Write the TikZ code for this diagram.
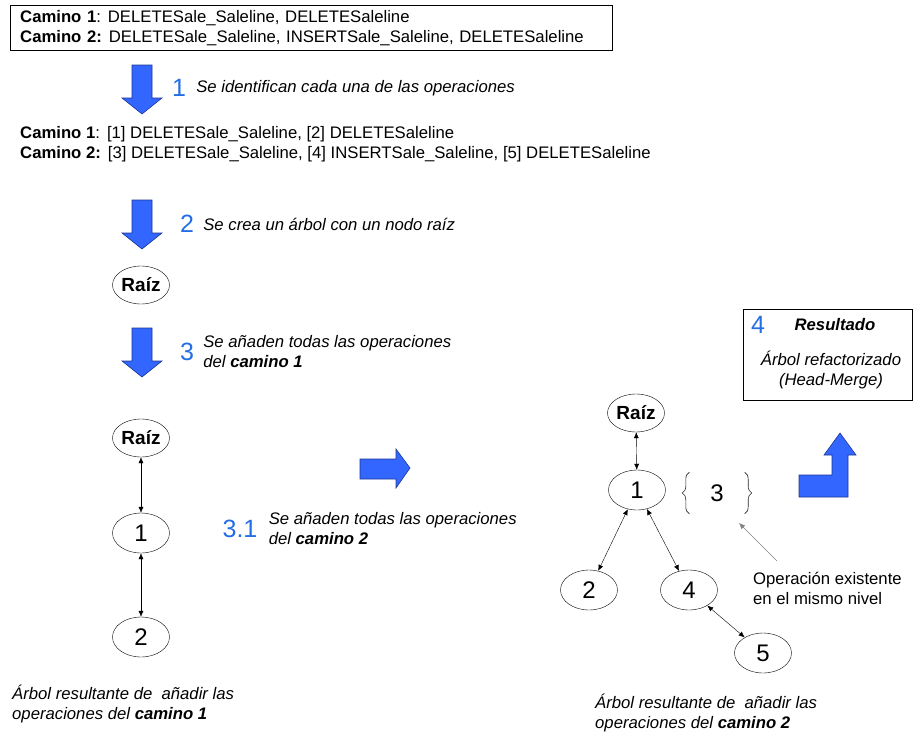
\documentclass[tikz,border=0pt]{standalone}
\usepackage{fontspec}
\setmainfont{Liberation Sans}
\usepackage{tikz}
\usetikzlibrary{positioning,arrows.meta,shapes.geometric,decorations.pathreplacing}
\definecolor{arrowblue}{RGB}{51,102,255}
\definecolor{arrowedge}{RGB}{30,55,150}
\definecolor{stepblue}{RGB}{35,110,230}

\begin{document}
\begin{tikzpicture}[
    x=1pt, y=-1pt,
    >={Latex[length=6pt,width=5pt]},
    tnode/.style={ellipse, draw, minimum width=57pt, minimum height=40pt, inner sep=0pt, font=\fontsize{24}{24}\selectfont},
    rnode/.style={ellipse, draw, minimum width=57pt, minimum height=38pt, inner sep=0pt, font=\fontsize{19}{19}\selectfont\bfseries},
    blockarrow/.style={draw=arrowedge, fill=arrowblue, line width=0.6pt},
    stepnum/.style={font=\fontsize{25}{25}\selectfont, text=stepblue, inner sep=1pt},
    stepdesc/.style={font=\fontsize{16.7}{20}\selectfont\itshape, align=left, inner sep=0pt, anchor=west},
    plain/.style={font=\fontsize{16.7}{20}\selectfont, align=left, inner sep=0pt, anchor=west},
    link/.style={<->, thin},
    grouping/.style={black!85, line width=0.6pt, decorate, decoration={brace, amplitude=7pt}}
]
\useasboundingbox (0,0) rectangle (915,731);

% === Paths (top) ===
\node[plain, draw, anchor=north west, inner xsep=10pt, text width=582pt, minimum height=45pt] (paths) at (10,5)
  {\textbf{Camino 1}:\hspace{7pt}DELETESale\_Saleline, DELETESaleline\\
   \textbf{Camino 2:}\hspace{7pt}DELETESale\_Saleline, INSERTSale\_Saleline, DELETESaleline};

% Down arrows (steps 1, 2, 3)
\foreach \top in {65, 200, 328} {
  \draw[blockarrow] (132,\top) -- (152,\top) -- (152,\top+33) -- (162,\top+33)
    -- (142,\top+49) -- (122,\top+33) -- (132,\top+33) -- cycle;
}

% Step 1
\node[stepnum] (num1) at (179,88) {1};
\node[stepdesc, right=9pt of num1] (desc1) {Se identifican cada una de las operaciones};

\node[plain] (ops) at (20,144)
  {\textbf{Camino 1}:\hspace{7pt}[1] DELETESale\_Saleline, [2] DELETESaleline\\
   \textbf{Camino 2:}\hspace{7pt}[3] DELETESale\_Saleline, [4] INSERTSale\_Saleline, [5] DELETESaleline};

% Step 2
\node[stepnum] (num2) at (187,224) {2};
\node[stepdesc, right=8pt of num2] (desc2) {Se crea un árbol con un nodo raíz};
\node[rnode] (root0) at (141,285) {Raíz};

% Step 3
\node[stepnum] (num3) at (187,352) {3};
\node[stepdesc, right=8pt of num3] (desc3) {Se añaden todas las operaciones\\del \textbf{camino 1}};

% === Tree after camino 1 ===
\node[rnode] (rootA) at (141,438) {Raíz};
\node[tnode] (oneA) at (141,533) {1};
\node[tnode] (twoA) at (141,637) {2};
\draw[link] (rootA) -- (oneA);
\draw[link] (oneA) -- (twoA);
\node[stepdesc] (capA) at (12,704) {Árbol resultante de~ añadir las\\operaciones del \textbf{camino 1}};

% Step 3.1
\draw[blockarrow] (360,459) -- (396,459) -- (396,449) -- (410,468) -- (396,488) -- (396,479) -- (360,479) -- cycle;
\node[stepnum] (num31) at (240,529) {3.1};
\node[stepdesc, right=10pt of num31] (desc31) {Se añaden todas las operaciones\\del \textbf{camino 2}};

% === Tree after camino 2 ===
\node[rnode] (rootB) at (636,413) {Raíz};
\node[tnode] (oneB) at (637,490) {1};
\node[tnode] (twoB) at (589,590) {2};
\node[tnode] (fourB) at (689,590) {4};
\node[tnode] (fiveB) at (763,653) {5};
\draw[link] (rootB) -- (oneB);
\draw[link] (oneB) -- (twoB);
\draw[link] (oneB) -- (fourB);
\draw[link] (fourB) -- (fiveB);
\node[font=\fontsize{24}{24}\selectfont, minimum width=55pt, minimum height=41pt, inner sep=0pt] (three) at (717,493) {3};
\draw[grouping] (three.south west) -- (three.north west);
\draw[grouping] (three.north east) -- (three.south east);
\node[plain] (note) at (753,588) {Operación existente\\en el mismo nivel};
\coordinate (noteTail) at (777,561);
\coordinate (noteTip) at (739,523);
\draw[->, gray, thin] (noteTail) -- (noteTip);
\node[stepdesc] (capB) at (595,713) {Árbol resultante de~ añadir las\\operaciones del \textbf{camino 2}};

% === Result ===
\node[draw, minimum width=169pt, minimum height=91pt] (result) at (827.5,354.5) {};
\node[stepnum] (num4) at (758,325) {4};
\node[font=\fontsize{16.7}{20}\selectfont\bfseries\itshape] (resTitle) at (835,325) {Resultado};
\node[stepdesc, align=center, anchor=center] (resText) at (831,370) {Árbol refactorizado\\(Head-Merge)};
\draw[blockarrow] (799,475) -- (832,475) -- (832,455) -- (824,455) -- (840,433) -- (856,455) -- (848,455)
  -- (848,497) -- (799,497) -- cycle;
\end{tikzpicture}
\end{document}
